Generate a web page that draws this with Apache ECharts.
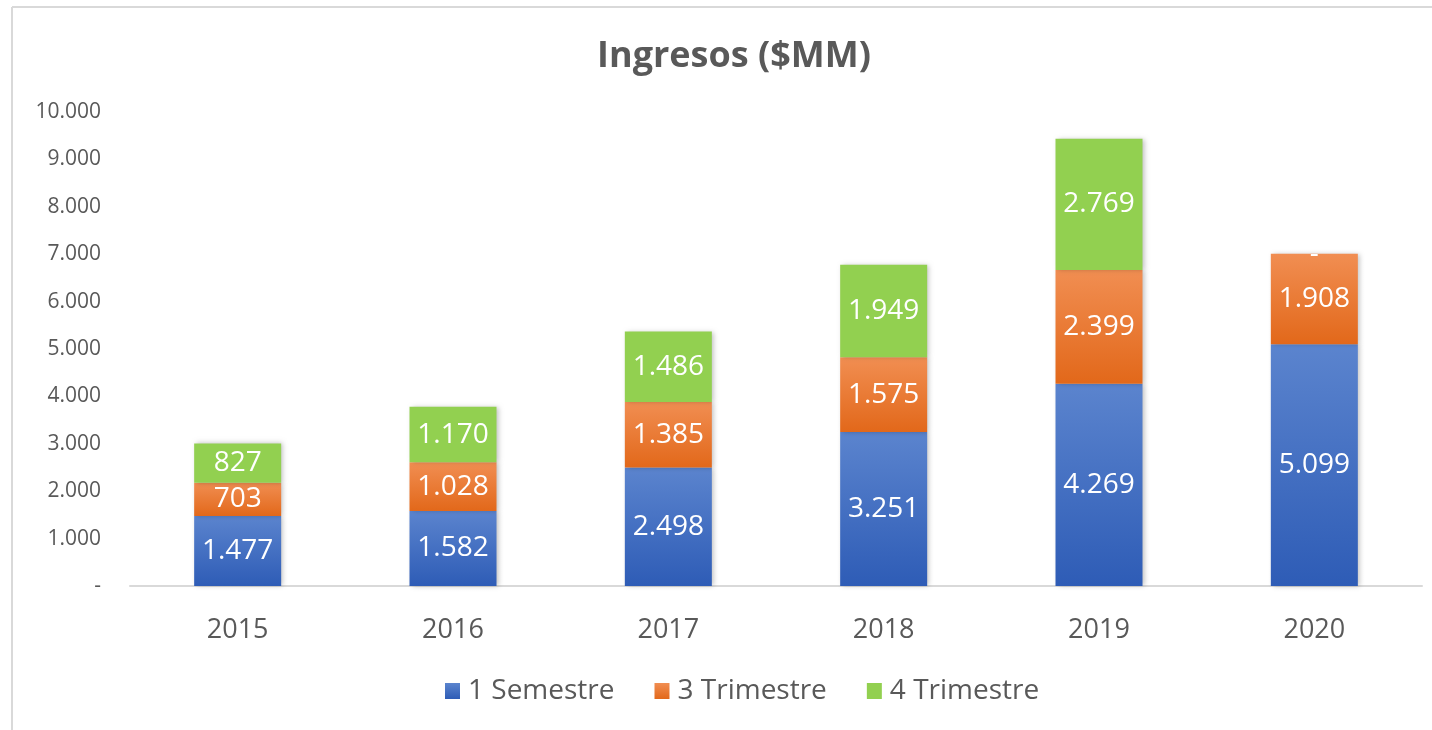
<!DOCTYPE html>
<html>
<head>
<meta charset="utf-8">
<script src="https://cdn.jsdelivr.net/npm/echarts@6/dist/echarts.min.js"></script>
<style>
	html, body { margin: 0; padding: 0; background: #fff; }
	#chart { width: 1432px; height: 730px; }
</style>
</head>
<body>
<div id="chart"></div>
<script>
// datos del grafico
var years = ['2015', '2016', '2017', '2018', '2019', '2020'];
var semestre1 = [1477, 1582, 2498, 3251, 4269, 5099];
var trimestre3 = [703, 1028, 1385, 1575, 2399, 1908];
var trimestre4 = [827, 1170, 1486, 1949, 2769, 0];
var seriesNames = ['1 Semestre', '3 Trimestre', '4 Trimestre'];

var FONT = '"Open Sans", "Noto Sans", sans-serif';

// separador de miles con punto, 0 como guion
function fmt(v) {
	if (v === 0) return '-';
	return String(v).replace(/\B(?=(\d{3})+(?!\d))/g, '.');
}

function grad(top, bottom) {
	return new echarts.graphic.LinearGradient(0, 0, 0, 1, [
		{ offset: 0, color: top },
		{ offset: 1, color: bottom }
	]);
}

var barStyle = {
	shadowBlur: 5,
	shadowOffsetX: 2,
	shadowOffsetY: 0,
	shadowColor: 'rgba(0,0,0,0.25)'
};

function makeSeries(name, data, color) {
	return {
		name: name,
		type: 'bar',
		stack: 'total',
		barWidth: 87,
		data: data,
		itemStyle: Object.assign({ color: color }, barStyle),
		label: {
			show: true,
			position: 'inside',
			color: '#fff',
			fontFamily: FONT,
			fontSize: 28,
			formatter: function(p) { return fmt(p.value); }
		}
	};
}

var myChart = echarts.init(document.getElementById('chart'));
var option = {
	backgroundColor: '#fff',
	animation: false,
	title: {
		text: 'Ingresos ($MM)',
		left: 729,
		textAlign: 'center',
		top: 34,
		textStyle: {
			color: '#595959',
			fontFamily: FONT,
			fontWeight: 'bold',
			fontSize: 36
		}
	},
	legend: {
		data: seriesNames,
		left: 440,
		top: 672,
		itemWidth: 15,
		itemHeight: 16,
		itemGap: 40,
		icon: 'rect',
		textStyle: {
			color: '#595959',
			fontFamily: FONT,
			fontSize: 28,
			padding: [0, 0, 0, 3]
		}
	},
	grid: {
		left: 130,
		right: 10,
		top: 112,
		bottom: 144,
		containLabel: false
	},
	xAxis: {
		type: 'category',
		data: years,
		axisLine: { lineStyle: { color: '#d9d9d9', width: 2 } },
		axisTick: { show: false },
		axisLabel: {
			color: '#595959',
			fontFamily: FONT,
			fontSize: 27,
			margin: 31
		}
	},
	yAxis: {
		type: 'value',
		min: 0,
		max: 10000,
		interval: 1000,
		axisLine: { show: false },
		axisTick: { show: false },
		splitLine: { show: false },
		axisLabel: {
			color: '#595959',
			fontFamily: FONT,
			fontSize: 21,
			margin: 29,
			formatter: fmt
		}
	},
	graphic: [
		{ type: 'line', shape: { x1: 12, y1: 7, x2: 1432, y2: 7 }, style: { stroke: '#d9d9d9', lineWidth: 2 } },
		{ type: 'line', shape: { x1: 12, y1: 7, x2: 12, y2: 730 }, style: { stroke: '#d9d9d9', lineWidth: 2 } }
	],
	series: [
		makeSeries(seriesNames[0], semestre1, grad('#5b84ce', '#2e5cb6')),
		makeSeries(seriesNames[1], trimestre3, grad('#f18e52', '#e2681a')),
		makeSeries(seriesNames[2], trimestre4, '#92d050')
	]
};
myChart.setOption(option);
</script>
</body>
</html>
